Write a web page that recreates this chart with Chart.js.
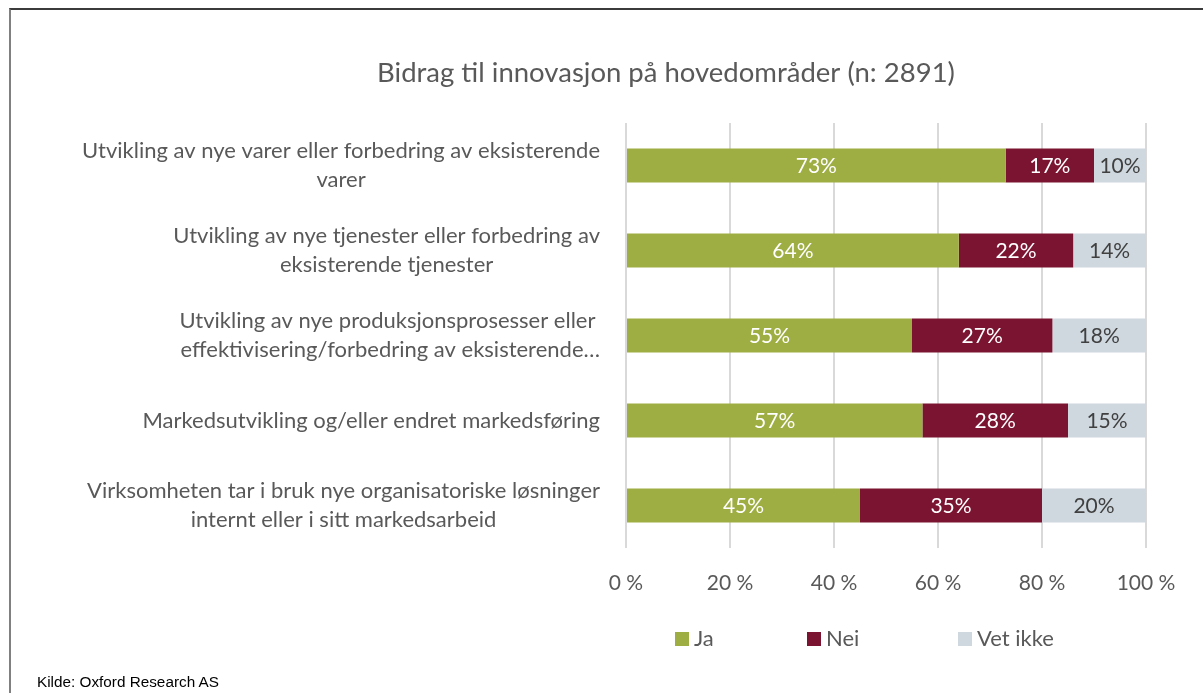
<!DOCTYPE html>
<html>
<head>
<meta charset="utf-8">
<script src="https://cdn.jsdelivr.net/npm/chart.js@4"></script>
<style>
  body { margin: 0; background: #fff; }
  #wrap { position: relative; width: 1203px; height: 693px; overflow: hidden; }
  #frame { position: absolute; left: 9px; top: 8px; width: 1300px; height: 800px;
           border-top: 2px solid #3b3b3b; border-left: 2px solid #808080; }
  #source { position: absolute; left: 37px; top: 673px; font: 15.3px "Liberation Sans", Arial, sans-serif; color: #000; }
  canvas { position: absolute; left: 0; top: 0; }
</style>
</head>
<body>
<div id="wrap">
  <div id="frame"></div>
  <canvas id="Chart1" width="1203" height="693"></canvas>
  <div id="source">Kilde: Oxford Research AS</div>
</div>
<script>
var chartTitle = 'Bidrag til innovasjon på hovedområder (n: 2891)';
var categories = [
  ['Utvikling av nye varer eller forbedring av eksisterende', 'varer'],
  ['Utvikling av nye tjenester eller forbedring av', 'eksisterende tjenester'],
  ['Utvikling av nye produksjonsprosesser eller', ' effektivisering/forbedring av eksisterende…'],
  ['Markedsutvikling og/eller endret markedsføring'],
  ['Virksomheten tar i bruk nye organisatoriske løsninger', 'internt eller i sitt markedsarbeid']
];
var seriesNames = ['Ja', 'Nei', 'Vet ikke'];
var ja = [73, 64, 55, 57, 45];
var nei = [17, 22, 27, 28, 35];
var vetIkke = [10, 14, 18, 15, 20];
var xTicks = [0, 20, 40, 60, 80, 100];

var textColor = '#595959';
var fontName = 'Lato';

// title drawn over the middle of the whole block
var titlePlugin = {
  id: 'titlePlugin',
  afterDraw: function(chart) {
    var ctx = chart.ctx;
    ctx.save();
    ctx.font = '27.5px ' + fontName;
    ctx.fillStyle = textColor;
    ctx.textAlign = 'center';
    ctx.textBaseline = 'middle';
    ctx.fillText(chartTitle, 666, 73);
    ctx.restore();
  }
};

// category labels: block right aligned, lines centered inside it
var catLabels = {
  id: 'catLabels',
  afterDraw: function(chart) {
    var ctx = chart.ctx;
    var y = chart.scales.y;
    ctx.save();
    ctx.font = '22px ' + fontName;
    ctx.fillStyle = textColor;
    ctx.textAlign = 'center';
    ctx.textBaseline = 'middle';
    categories.forEach(function(lines, i) {
      var yc = y.getPixelForValue(i);
      var w = Math.max.apply(null, lines.map(function(l) { return ctx.measureText(l).width; }));
      var cx = 600 - w / 2;
      lines.forEach(function(l, j) {
        ctx.fillText(l, cx, yc + (j - (lines.length - 1) / 2) * 29);
      });
    });
    ctx.restore();
  }
};

// value labels in the middle of each segment
var valueLabels = {
  id: 'valueLabels',
  afterDatasetsDraw: function(chart) {
    var ctx = chart.ctx;
    ctx.save();
    ctx.font = '21px ' + fontName;
    ctx.textAlign = 'center';
    ctx.textBaseline = 'middle';
    chart.data.datasets.forEach(function(ds, di) {
      var meta = chart.getDatasetMeta(di);
      meta.data.forEach(function(bar, i) {
        ctx.fillStyle = di < 2 ? '#ffffff' : '#404040';
        ctx.fillText(ds.data[i] + '%', (bar.x + bar.base) / 2, bar.y + 1);
      });
    });
    ctx.restore();
  }
};

// legend below the axis
var legendPlugin = {
  id: 'legendPlugin',
  afterDraw: function(chart) {
    var ctx = chart.ctx;
    var xs = [675, 807, 958];
    ctx.save();
    ctx.font = '22px ' + fontName;
    ctx.textBaseline = 'middle';
    ctx.textAlign = 'left';
    chart.data.datasets.forEach(function(ds, i) {
      ctx.fillStyle = ds.backgroundColor;
      ctx.fillRect(xs[i], 632, 14, 14);
      ctx.fillStyle = textColor;
      ctx.fillText(ds.label, xs[i] + 19, 639);
    });
    ctx.restore();
  }
};

var ctx1 = document.getElementById('Chart1').getContext('2d');
var myChart1 = new Chart(ctx1, {
  type: 'bar',
  data: {
    labels: categories,
    datasets: [
      { label: seriesNames[0], data: ja, backgroundColor: '#9fae43' },
      { label: seriesNames[1], data: nei, backgroundColor: '#7b1431' },
      { label: seriesNames[2], data: vetIkke, backgroundColor: '#cfd8df' }
    ]
  },
  options: {
    indexAxis: 'y',
    responsive: false,
    animation: false,
    events: [],
    layout: { padding: { left: 626, right: 57, top: 123, bottom: 95 } },
    categoryPercentage: 0.4,
    barPercentage: 1,
    plugins: {
      legend: { display: false },
      title: { display: false },
      tooltip: { enabled: false }
    },
    scales: {
      x: {
        stacked: true,
        min: 0,
        max: 100,
        afterBuildTicks: function(scale) {
          scale.ticks = xTicks.map(function(v) { return { value: v }; });
        },
        afterFit: function(scale) { scale.height = 50; },
        grid: { color: '#d9d9d9', lineWidth: 2, drawTicks: false },
        border: { display: false },
        ticks: {
          padding: 23,
          color: textColor,
          font: { family: fontName, size: 21 },
          callback: function(v) { return v + ' %'; }
        }
      },
      y: {
        stacked: true,
        display: false
      }
    }
  },
  plugins: [titlePlugin, catLabels, valueLabels, legendPlugin]
});
</script>
</body>
</html>
